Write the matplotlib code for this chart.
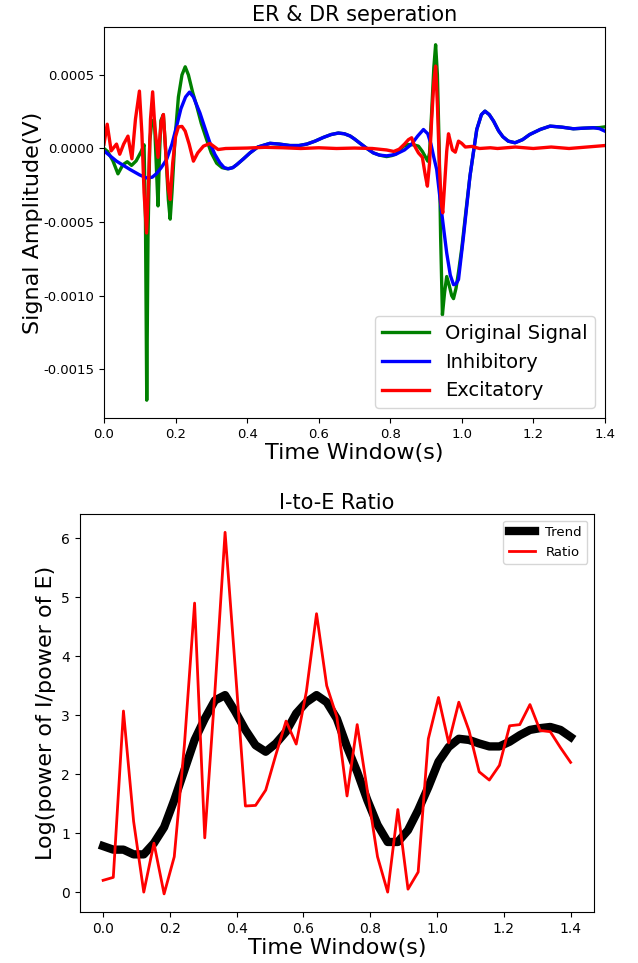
import numpy as np
import matplotlib
matplotlib.use('Agg')
import matplotlib.pyplot as plt

plt.rcParams['axes.unicode_minus'] = False

# --- senal original / inhibitoria / excitatoria (valores en 1e-4 V) ---
t_orig = [0.000, 0.010, 0.025, 0.039, 0.053, 0.065, 0.077, 0.090, 0.104, 0.112, 0.116, 0.1195,
          0.123, 0.128, 0.134, 0.141, 0.146, 0.151, 0.155, 0.159, 0.166, 0.172, 0.180, 0.185,
          0.190, 0.198, 0.208, 0.218, 0.227, 0.236, 0.248, 0.259, 0.272, 0.287, 0.300, 0.315,
          0.330, 0.345, 0.360, 0.371, 0.390, 0.408, 0.430, 0.464, 0.490, 0.520, 0.545, 0.567,
          0.590, 0.613, 0.635, 0.655, 0.672, 0.688, 0.700, 0.716, 0.735, 0.753, 0.770, 0.790,
          0.805, 0.818, 0.837, 0.851, 0.865, 0.879, 0.890, 0.898, 0.905, 0.910, 0.916, 0.922,
          0.927, 0.932, 0.937, 0.941, 0.946, 0.952, 0.958, 0.965, 0.972, 0.977, 0.984, 0.991,
          1.000, 1.012, 1.023, 1.042, 1.055, 1.065, 1.077, 1.089, 1.103, 1.115, 1.130, 1.149,
          1.170, 1.190, 1.220, 1.247, 1.280, 1.312, 1.340, 1.368, 1.385, 1.400]
v_orig = [0.0, -0.2, -0.84, -1.72, -1.1, -0.9, -1.15, -0.84, -0.2, 0.25, -5.0, -17.1,
          -6.0, 0.5, 1.9, 1.9, -1.0, -3.9, -0.5, 1.9, 2.3, 0.0, -3.5, -4.8,
          -3.0, 0.5, 3.5, 5.0, 5.55, 5.0, 3.8, 2.9, 1.7, 0.6, -0.3, -1.0,
          -1.3, -1.38, -1.3, -1.1, -0.7, -0.3, 0.1, 0.35, 0.3, 0.2, 0.2, 0.3,
          0.5, 0.75, 0.95, 1.05, 1.0, 0.85, 0.65, 0.35, 0.0, -0.3, -0.45, -0.55,
          -0.48, -0.35, 0.15, 0.27, 0.25, 0.16, -0.2, -0.55, -0.86, -0.3, 2.5, 5.5,
          7.05, 5.0, 0.0, -6.0, -11.3, -9.8, -8.7, -9.3, -10.0, -10.2, -9.5, -8.4,
          -6.8, -4.2, -1.88, 1.29, 2.3, 2.54, 2.3, 1.86, 1.2, 0.8, 0.5, 0.39,
          0.6, 0.95, 1.3, 1.52, 1.45, 1.34, 1.38, 1.41, 1.42, 1.47]

t_inh = [0.000, 0.035, 0.073, 0.100, 0.119, 0.135, 0.147, 0.160, 0.175, 0.190, 0.203, 0.215,
         0.228, 0.239, 0.250, 0.260, 0.268, 0.282, 0.296, 0.310, 0.324, 0.336, 0.348, 0.360,
         0.371, 0.390, 0.408, 0.430, 0.464, 0.490, 0.520, 0.545, 0.567, 0.590, 0.613, 0.635,
         0.655, 0.672, 0.688, 0.700, 0.716, 0.735, 0.753, 0.770, 0.790, 0.814, 0.840, 0.860,
         0.877, 0.893, 0.905, 0.914, 0.922, 0.930, 0.944, 0.958, 0.968, 0.977, 0.984, 0.991,
         1.005, 1.023, 1.042, 1.055, 1.065, 1.077, 1.089, 1.103, 1.115, 1.130, 1.149, 1.170,
         1.190, 1.220, 1.247, 1.280, 1.312, 1.340, 1.368, 1.385, 1.400]
v_inh = [-0.16, -0.86, -1.43, -1.8, -2.0, -1.95, -1.7, -1.3, -0.75, 0.3, 1.52, 2.7,
         3.5, 3.83, 3.5, 2.9, 2.43, 1.4, 0.39, -0.4, -0.97, -1.3, -1.38, -1.3,
         -1.1, -0.7, -0.3, 0.1, 0.35, 0.3, 0.2, 0.2, 0.3, 0.5, 0.75, 0.95,
         1.05, 1.0, 0.85, 0.65, 0.35, 0.0, -0.3, -0.45, -0.5, -0.41, -0.1, 0.3,
         0.85, 1.29, 1.0, 0.3, -0.6, -1.43, -4.37, -7.1, -8.6, -9.25, -9.2, -8.9,
         -5.96, -1.88, 1.29, 2.3, 2.54, 2.3, 1.86, 1.2, 0.8, 0.5, 0.39, 0.6,
         0.95, 1.3, 1.52, 1.45, 1.34, 1.38, 1.41, 1.35, 1.18]

t_exc = [0.000, 0.009, 0.020, 0.035, 0.044, 0.055, 0.067, 0.078, 0.088, 0.099, 0.106, 0.112,
         0.119, 0.125, 0.130, 0.136, 0.142, 0.151, 0.160, 0.166, 0.172, 0.180, 0.185, 0.192,
         0.200, 0.208, 0.218, 0.227, 0.238, 0.250, 0.262, 0.278, 0.296, 0.319, 0.340, 0.400,
         0.450, 0.500, 0.550, 0.600, 0.650, 0.700, 0.750, 0.790, 0.810, 0.825, 0.840, 0.851,
         0.860, 0.866, 0.871, 0.879, 0.890, 0.898, 0.904, 0.910, 0.916, 0.922, 0.927, 0.932,
         0.938, 0.943, 0.947, 0.952, 0.958, 0.963, 0.967, 0.974, 0.982, 0.991, 1.000, 1.010,
         1.028, 1.050, 1.080, 1.100, 1.150, 1.200, 1.250, 1.300, 1.350, 1.400]
v_exc = [0.3, 1.65, -0.16, 0.3, -0.39, 0.3, 0.84, -0.7, 2.0, 3.9, 1.0, -3.0,
         -5.74, -2.0, 2.0, 3.85, 1.5, -0.6, 1.8, 2.31, 0.0, -2.8, -3.47, -1.0,
         0.8, 1.47, 1.5, 1.18, 0.3, -0.86, -0.3, 0.16, 0.34, -0.07, 0.0, 0.03,
         0.08, 0.05, 0.0, 0.05, 0.0, 0.03, 0.0, -0.1, -0.2, -0.05, 0.3, 0.6,
         0.73, 0.3, 0.05, -0.3, -0.6, -1.8, -2.56, -1.0, 2.0, 4.5, 5.6, 3.0,
         -1.5, -3.8, -4.37, -2.5, -0.2, 1.0, 0.6, -0.1, -0.25, 0.5, 0.35, 0.1,
         0.14, 0.0, 0.05, 0.0, 0.1, 0.0, 0.1, 0.0, 0.1, 0.2]

# --- razon I/E por ventana ---
ventanas = np.linspace(0, 1.4, 47)
ratio = [0.2, 0.25, 3.07, 1.2, 0.0, 0.83, -0.03, 0.6, 2.5, 4.9, 0.92, 3.4,
         6.1, 3.8, 1.46, 1.47, 1.73, 2.33, 2.9, 2.51, 3.4, 4.72, 3.5, 2.97,
         1.63, 2.84, 1.72, 0.6, 0.0, 1.4, 0.05, 0.34, 2.6, 3.3, 2.53, 3.22,
         2.74, 2.04, 1.9, 2.15, 2.82, 2.84, 3.18, 2.74, 2.72, 2.45, 2.2]
tendencia = [0.78, 0.72, 0.72, 0.64, 0.64, 0.83, 1.1, 1.56, 2.07, 2.58, 2.94, 3.25,
             3.34, 3.06, 2.75, 2.49, 2.38, 2.52, 2.72, 3.03, 3.22, 3.34, 3.22, 2.94,
             2.46, 2.04, 1.56, 1.14, 0.85, 0.85, 1.05, 1.39, 1.78, 2.21, 2.46, 2.6,
             2.58, 2.52, 2.47, 2.47, 2.55, 2.66, 2.75, 2.78, 2.8, 2.75, 2.63]

fig = plt.figure(figsize=(6.38, 9.63), dpi=100)

# Grafica superior
ax1 = fig.add_axes([0.163, 0.566, 0.785, 0.406])
ax1.plot(t_orig, np.array(v_orig) * 1e-4, color='green', lw=2.4, label='Original Signal')
ax1.plot(t_inh, np.array(v_inh) * 1e-4, color='blue', lw=2.4, label='Inhibitory')
ax1.plot(t_exc, np.array(v_exc) * 1e-4, color='red', lw=2.4, label='Excitatory')
ax1.set_xlim(0, 1.4)
ax1.set_title('ER & DR seperation', fontsize=15, pad=4)
ax1.set_xlabel('Time Window(s)', fontsize=16, labelpad=2)
ax1.set_ylabel('Signal Amplitude(V)', fontsize=16, labelpad=0)
ax1.tick_params(labelsize=9.5)
ax1.legend(loc='lower right', fontsize=14, handlelength=2.4)

# Grafica inferior
ax2 = fig.add_axes([0.125, 0.053, 0.806, 0.413])
ax2.plot(ventanas, tendencia, color='black', lw=6, label='Trend')
ax2.plot(ventanas, ratio, color='red', lw=2, label='Ratio')
ax2.set_title('I-to-E Ratio', fontsize=15, pad=4)
ax2.set_xlabel('Time Window(s)', fontsize=16, labelpad=2)
ax2.set_ylabel('Log(power of I/power of E)', fontsize=16)
ax2.tick_params(labelsize=10)
ax2.legend(loc='upper right', fontsize=9.5)

plt.savefig('out.png', dpi=100)
